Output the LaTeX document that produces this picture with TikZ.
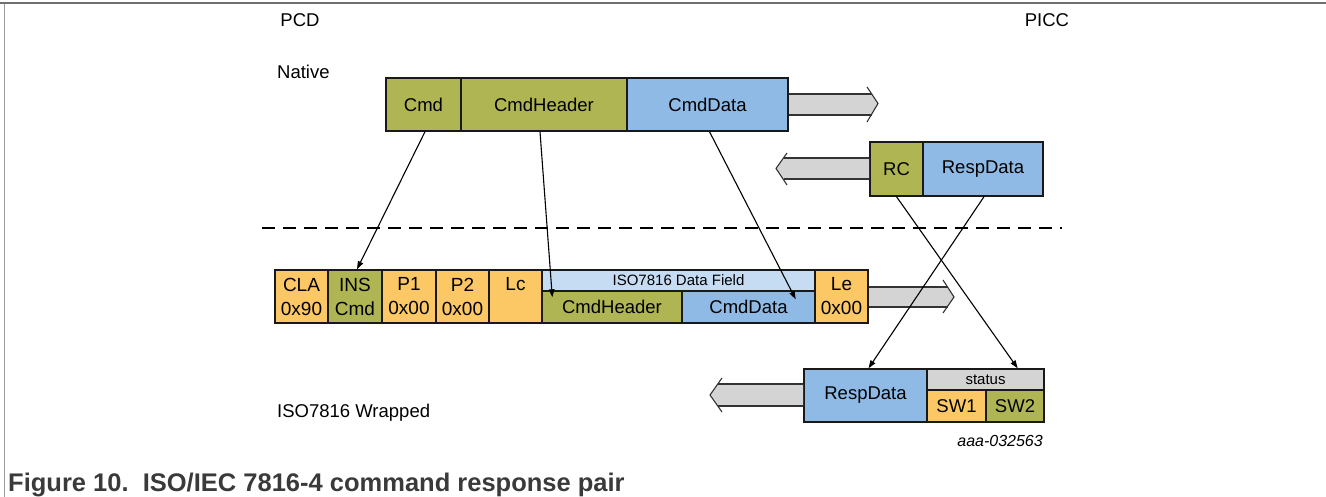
\documentclass[tikz,border=0pt]{standalone}
\usepackage{fontspec}
\setmainfont{Liberation Sans}
\usetikzlibrary{arrows.meta}
\definecolor{olive}{HTML}{AFB553}
\definecolor{bblue}{HTML}{8EBAE5}
\definecolor{orng}{HTML}{FBC865}
\definecolor{lblue}{HTML}{C5DCF3}
\definecolor{lgray}{HTML}{D4D4D4}
\definecolor{frame}{HTML}{707070}
\definecolor{capt}{HTML}{3A3A3A}
\begin{document}
\begin{tikzpicture}[x=1pt,y=-1pt,
  box/.style={draw=black!90, line width=1.4pt, inner sep=0pt, align=center,
    font=\fontsize{18.5}{18.5}\selectfont},
  twoline/.style={box, font=\fontsize{19}{24}\selectfont},
  small/.style={box, font=\fontsize{15}{15}\selectfont},
  conn/.style={line width=1.1pt, -{Triangle[length=8pt,width=5.5pt]}},
  barrow/.style={fill=lgray, draw=none},
  bline/.style={draw=black!80, line width=1.1pt},
  lbl/.style={inner sep=0pt, font=\fontsize{18.5}{18.5}\selectfont}
]
\useasboundingbox (0,0) rectangle (1326,497);
% frame
\draw[frame!70, line width=1pt] (4.5,3) -- (4.5,497);
\draw[frame, line width=1.6pt] (0,3) -- (1326,3);

% labels
\node[lbl] (pcd) at (300,20) {PCD};
\node[lbl] (picc) at (1047,20) {PICC};
\node[lbl, anchor=west] (native) at (277,72) {Native};
\node[lbl, anchor=west] (wrapped) at (277,413) {ISO7816 Wrapped};
\node[inner sep=0pt, anchor=east, font=\fontsize{16}{16}\selectfont\itshape] (id) at (1043,441) {aaa-032563};
\node[inner sep=0pt, anchor=base west, text=capt, font=\fontsize{25.5}{25.5}\selectfont\bfseries] (cap) at (8,491) {Figure 10.\ \ ISO/IEC 7816-4 command response pair};

% native command
\node[box, fill=olive, minimum width=75pt, minimum height=53pt] (cmd) at (423.5,104.5) {Cmd};
\node[box, fill=olive, minimum width=166pt, minimum height=53pt] (cmdh) at (544,104.5) {CmdHeader};
\node[box, fill=bblue, minimum width=161pt, minimum height=53pt] (cmdd) at (707.5,104.5) {CmdData};

% arrow right (native)
\fill[barrow] (789,94) -- (871.7,94) -- (878,103.5) -- (871.7,115) -- (789,115) -- cycle;
\draw[bline] (789,94) -- (871.7,94) (789,115) -- (871.7,115);
\draw[bline] (867,87) -- (878,103.5) -- (867,122);

% native response
\node[box, fill=olive, minimum width=53pt, minimum height=54pt] (rc) at (896.5,169) {RC};
\node[box, fill=bblue, minimum width=120pt, minimum height=54pt] (respd1) at (983,169) {RespData};
\fill[barrow] (869,158) -- (783.5,158) -- (776,168.5) -- (783.5,179) -- (869,179) -- cycle;
\draw[bline] (869,158) -- (783.5,158) (869,179) -- (783.5,179);
\draw[bline] (787,153) -- (776,168.5) -- (787,185);

% dashed separator
\draw[line width=1.1pt, dash pattern=on 13pt off 8pt] (262,228) -- (1062,228);

% APDU command
\node[twoline, fill=orng, minimum width=53pt, minimum height=53pt] (cla) at (301.5,296.5) {CLA\\0x90};
\node[twoline, fill=olive, minimum width=54pt, minimum height=53pt] (ins) at (355,296.5) {INS\\Cmd};
\node[twoline, fill=orng, minimum width=54pt, minimum height=53pt] (p1) at (409,296.5) {P1\\0x00};
\node[twoline, fill=orng, minimum width=53pt, minimum height=53pt] (p2) at (462.5,296.5) {P2\\0x00};
\node[twoline, fill=orng, minimum width=53pt, minimum height=53pt] (lc) at (515.5,296.5) {Lc\\\phantom{0}};
\node[small, fill=lblue, minimum width=273pt, minimum height=21pt] (dfield) at (678.5,280.5) {ISO7816 Data Field};
\node[box, fill=olive, minimum width=140pt, minimum height=32pt] (cmdh2) at (612,307) {CmdHeader};
\node[box, fill=bblue, minimum width=133pt, minimum height=32pt] (cmdd2) at (748.5,307) {CmdData};
\node[twoline, fill=orng, minimum width=53pt, minimum height=53pt] (le) at (841.5,296.5) {Le\\0x00};
\fill[barrow] (869,287) -- (947.5,287) -- (954,297) -- (947.5,307) -- (869,307) -- cycle;
\draw[bline] (869,287) -- (947.5,287) (869,307) -- (947.5,307);
\draw[bline] (943,280) -- (954,297) -- (943,313);

% APDU response
\node[box, fill=bblue, minimum width=123pt, minimum height=53pt] (respd2) at (865.5,395.5) {RespData};
\node[small, fill=lgray, minimum width=117pt, minimum height=21pt] (status) at (985.5,379.5) {status};
\node[box, fill=orng, minimum width=59pt, minimum height=32pt] (sw1) at (956.5,406) {SW1};
\node[box, fill=olive, minimum width=58pt, minimum height=32pt] (sw2) at (1015,406) {SW2};
\fill[barrow] (803,384) -- (717.8,384) -- (710,395) -- (717.8,406) -- (803,406) -- cycle;
\draw[bline] (803,384) -- (717.8,384) (803,406) -- (717.8,406);
\draw[bline] (722,378) -- (710,395) -- (722,412);

% connectors
\coordinate (hdrend) at ([xshift=11pt,yshift=-7pt]cmdh2.north west);
\coordinate (datend) at ([xshift=-20pt,yshift=-9pt]cmdd2.north east);
\draw[conn] ([xshift=1.5pt]cmd.south) -- ([xshift=2pt]ins.north);
\draw[conn] ([xshift=-4pt]cmdh.south) -- (hdrend);
\draw[conn] ([xshift=2pt]cmdd.south) -- (datend);
\draw[conn] (rc.south) -- ([xshift=-27pt]status.north east);
\draw[conn] ([xshift=1pt]respd1.south) -- ([xshift=3pt]respd2.north);
\end{tikzpicture}
\end{document}
